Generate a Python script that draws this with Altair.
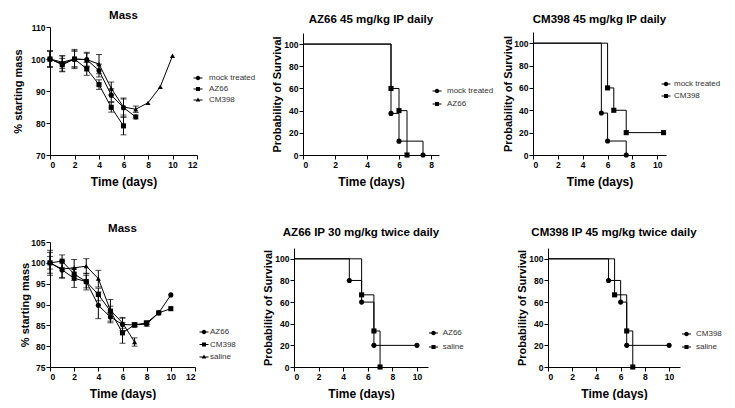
import altair as alt
import pandas as pd

FONT = "Liberation Sans"

# ---------------- data ----------------
# Panel 1: Mass, 45 mg/kg IP daily experiment
p1_groups = ["mock treated", "AZ66", "CM398"]
p1_mock_day = [0, 1, 2, 3, 4, 5, 6, 7]
p1_mock_mass = [100, 98.5, 100, 99.8, 96.4, 88.7, 84.8, 81.9]
p1_mock_err = [2.5, 2.5, 2.5, 2.0, 2.0, 2.0, 3.0, 0.6]
p1_az_day = [0, 1, 2, 3, 4, 5, 6]
p1_az_mass = [100, 98.2, 100, 96.9, 92.0, 84.9, 79.1]
p1_az_err = [2.5, 2.0, 2.5, 2.0, 1.5, 1.5, 2.8]
p1_cm_day = [0, 1, 2, 3, 4, 5, 6, 7, 8, 9, 10]
p1_cm_mass = [100, 99.0, 100, 99.8, 98.4, 90.8, 85.0, 84.3, 86.3, 91.3, 101.0]
p1_cm_err = [2.5, 2.0, 3.0, 2.3, 3.0, 2.0, 2.5, 1.0, 0, 0, 0]

# Panel 2: survival AZ66 45 mg/kg IP daily
p2_groups = ["mock treated", "AZ66"]
p2_mock_t = [0, 5.5, 6, 7.5]
p2_mock_s = [100, 37.5, 12.5, 0]
p2_az_t = [0, 5.5, 6, 6.5]
p2_az_s = [100, 60, 40, 0]

# Panel 3: survival CM398 45 mg/kg IP daily
p3_groups = ["mock treated", "CM398"]
p3_mock_t = [0, 5.5, 6, 7.5]
p3_mock_s = [100, 37.5, 12.5, 0]
p3_cm_t = [0, 6, 6.5, 7.5, 10.5]
p3_cm_s = [100, 60, 40, 20, 20]

# Panel 4: Mass, twice daily experiment
p4_groups = ["AZ66", "CM398", "saline"]
p4_az_day = [0, 1, 2, 3, 4, 5, 6, 7, 8, 9, 10]
p4_az_mass = [100, 98.3, 96.3, 95.5, 89.8, 87.0, 85.2, 85.1, 85.3, 88.0, 92.3]
p4_az_err = [2.5, 2.0, 2.2, 2.0, 3.2, 1.0, 1.5, 0.5, 0.5, 0, 0]
p4_cm_day = [0, 1, 2, 3, 4, 5, 6, 7, 8, 9, 10]
p4_cm_mass = [100, 100.4, 97.3, 95.5, 92.4, 88.4, 83.2, 85.1, 85.6, 88.0, 89.0]
p4_cm_err = [1.5, 1.5, 1.5, 1.5, 1.5, 2.8, 2.5, 0.4, 0.4, 0, 0]
p4_sal_day = [0, 1, 2, 3, 4, 5, 6, 7]
p4_sal_mass = [100, 98.5, 98.8, 99.2, 96.2, 88.6, 85.6, 81.0]
p4_sal_err = [3.0, 2.0, 2.0, 1.8, 2.0, 1.0, 1.3, 1.0]

# Panel 5: survival AZ66 IP 30 mg/kg twice daily
p5_groups = ["AZ66", "saline"]
p5_az_t = [0, 4.5, 5.5, 6.5, 10]
p5_az_s = [100, 80, 60, 20, 20]
p5_sal_t = [0, 5.5, 6.5, 7]
p5_sal_s = [100, 66.7, 33.3, 0]

# Panel 6: survival CM398 IP 45 mg/kg twice daily
p6_groups = ["CM398", "saline"]
p6_cm_t = [0, 5, 6, 6.5, 10]
p6_cm_s = [100, 80, 60, 20, 20]
p6_sal_t = [0, 5.5, 6.5, 7]
p6_sal_s = [100, 66.7, 33.3, 0]

# ---------------- helpers ----------------
SHAPES = ["circle", "square", "triangle-up"]
LINE = "M-1,-0.11H1V0.11H-1Z"
LEG_PATHS = [
    LINE + "M0.5,0A0.5,0.5,0,1,1,-0.5,0A0.5,0.5,0,1,1,0.5,0Z",
    LINE + "M-0.45,-0.45H0.45V0.45H-0.45Z",
    LINE + "M0,-0.55L0.5,0.35H-0.5Z",
]


def mass_df(groups, days, masses, errs):
    rows = []
    for g, ds, ms, es in zip(groups, days, masses, errs):
        for d, m, e in zip(ds, ms, es):
            rows.append({"group": g, "day": d, "mass": m, "err": e, "lo": m - e, "hi": m + e})
    return pd.DataFrame(rows)


def surv_df(groups, ts, ss):
    rows = []
    for g, tt, sv in zip(groups, ts, ss):
        for t, s in zip(tt, sv):
            rows.append({"group": g, "t": t, "s": s})
    return pd.DataFrame(rows)


def legend(lx, ly, lo, rp, pad):
    return alt.Legend(
        orient="none", legendX=lx, legendY=ly, title=None,
        symbolSize=81, symbolStrokeWidth=0, symbolFillColor="black",
        symbolOpacity=1,
        labelFont=FONT, labelFontSize=8, labelColor="#333333",
        labelOffset=lo, rowPadding=rp, padding=pad,
    )


def mass_panel(df, groups, title, xdom, xticks, ydom, yrange, yticks, w, h,
               toff, ytp, leg):
    xs = alt.Scale(domain=xdom, nice=False, zero=False)
    ys = alt.Scale(domain=ydom, range=yrange, nice=False, zero=False)
    xa = alt.Axis(values=xticks, title="Time (days)")
    ya = alt.Axis(values=yticks, title="% starting mass", titlePadding=ytp)
    X = lambda f: alt.X(f, scale=xs, axis=xa, title="Time (days)")
    Y = lambda f: alt.Y(f, scale=ys, axis=ya, title="% starting mass")
    base = alt.Chart(df)
    ebd = base.transform_filter("datum.err > 0")
    bars = ebd.mark_rule(color="black", strokeWidth=1).encode(
        x=X("day:Q"), y=Y("lo:Q"), y2="hi:Q")
    cap_lo = ebd.mark_tick(orient="horizontal", size=6, thickness=1, color="black").encode(
        x=X("day:Q"), y=Y("lo:Q"))
    cap_hi = ebd.mark_tick(orient="horizontal", size=6, thickness=1, color="black").encode(
        x=X("day:Q"), y=Y("hi:Q"))
    line = base.mark_line(color="black", strokeWidth=1).encode(
        x=X("day:Q"), y=Y("mass:Q"), detail="group:N")
    pts = base.mark_point(filled=True, color="black", opacity=1, size=26).encode(
        x=X("day:Q"), y=Y("mass:Q"),
        shape=alt.Shape("group:N", scale=alt.Scale(domain=groups, range=SHAPES[:len(groups)]), legend=None))
    leg_l = base.mark_point(filled=True, color="black", opacity=0, size=1).encode(
        x=X("day:Q"), y=Y("mass:Q"),
        shape=alt.Shape("group:N", scale=alt.Scale(domain=groups, range=LEG_PATHS[:len(groups)]), legend=leg))
    return alt.layer(bars, cap_lo, cap_hi, line, pts, leg_l).resolve_scale(
        shape="independent").properties(
        width=w, height=h, title=alt.Title(title, offset=toff, frame="group"))


def surv_panel(df, groups, title, xdom, xticks, yrange, w, h, toff, ytp, leg):
    xs = alt.Scale(domain=xdom, nice=False, zero=False)
    ys = alt.Scale(domain=[0, 110], range=yrange, nice=False, zero=False)
    xa = alt.Axis(values=xticks, title="Time (days)")
    ya = alt.Axis(values=[0, 20, 40, 60, 80, 100], title="Probability of Survival", titlePadding=ytp)
    X = alt.X("t:Q", scale=xs, axis=xa)
    Y = alt.Y("s:Q", scale=ys, axis=ya)
    base = alt.Chart(df)
    line = base.mark_line(interpolate="step-after", color="black", strokeWidth=1).encode(
        x=X, y=Y, detail="group:N")
    ev = base.transform_filter("datum.t > 0")
    pts = ev.mark_point(filled=True, color="black", opacity=1, size=26).encode(
        x=X, y=Y,
        shape=alt.Shape("group:N", scale=alt.Scale(domain=groups, range=SHAPES[:len(groups)]), legend=None))
    leg_l = ev.mark_point(filled=True, color="black", opacity=0, size=1).encode(
        x=X, y=Y,
        shape=alt.Shape("group:N", scale=alt.Scale(domain=groups, range=LEG_PATHS[:len(groups)]), legend=leg))
    return alt.layer(line, pts, leg_l).resolve_scale(shape="independent").properties(
        width=w, height=h, title=alt.Title(title, offset=toff, frame="group"))


# ---------------- panels ----------------
d1 = mass_df(p1_groups, [p1_mock_day, p1_az_day, p1_cm_day],
             [p1_mock_mass, p1_az_mass, p1_cm_mass], [p1_mock_err, p1_az_err, p1_cm_err])
d2 = surv_df(p2_groups, [p2_mock_t, p2_az_t], [p2_mock_s, p2_az_s])
d3 = surv_df(p3_groups, [p3_mock_t, p3_cm_t], [p3_mock_s, p3_cm_s])
d4 = mass_df(p4_groups, [p4_az_day, p4_cm_day, p4_sal_day],
             [p4_az_mass, p4_cm_mass, p4_sal_mass], [p4_az_err, p4_cm_err, p4_sal_err])
d5 = surv_df(p5_groups, [p5_az_t, p5_sal_t], [p5_az_s, p5_sal_s])
d6 = surv_df(p6_groups, [p6_cm_t, p6_sal_t], [p6_cm_s, p6_sal_s])

H1 = 128
H2 = 125
c1 = mass_panel(d1, p1_groups, "Mass", [0, 12], [0, 2, 4, 6, 8, 10, 12],
                [70, 110], [H1, 0], [70, 80, 90, 100, 110], 147, H1, 2, 7.8,
                legend(132.5, 35.5, 6.5, 2, 11))
c2 = surv_panel(d2, p2_groups, "AZ66 45 mg/kg IP daily", [0, 8.5], [0, 2, 4, 6, 8],
                [H1, 6], 136, H1, 2, 1.8, legend(125.5, 55.5, 5.5, 4, 4))
c3 = surv_panel(d3, p3_groups, "CM398 45 mg/kg IP daily", [0, 10.7], [0, 2, 4, 6, 8, 10],
                [H1, 5], 133, H1, 2, 0.8, legend(128.5, 52.5, 3.5, 3, 0))
c4 = mass_panel(d4, p4_groups, "Mass", [0, 12], [0, 2, 4, 6, 8, 10, 12],
                [75, 105], [H2, 0], [75, 80, 85, 90, 95, 100, 105], 145, H2, 3.5, 0,
                legend(149.5, 85.5, 1.5, 3.5, 0))
c5 = surv_panel(d5, p5_groups, "AZ66 IP 30 mg/kg twice daily", [0, 10.9], [0, 2, 4, 6, 8, 10],
                [H2, 6], 134, H2, 3.5, 1.0, legend(108, 59.5, 4.7, 5, 27))
c6 = surv_panel(d6, p6_groups, "CM398 IP 45 mg/kg twice daily", [0, 10.9], [0, 2, 4, 6, 8, 10],
                [H2, 6], 132, H2, 3.5, 1.0, legend(134, 87.5, 5, 4, 0))

top = alt.hconcat(c1, c2, c3, spacing=4)
bottom = alt.hconcat(c4, c5, c6, spacing=25)

chart = alt.vconcat(top, bottom, spacing=35).properties(
    padding={"left": 4, "top": 1, "right": 0, "bottom": 0}
).configure_view(stroke=None).configure_axis(
    grid=False, domainColor="black", tickColor="black", labelColor="black",
    titleColor="black", labelFont=FONT, titleFont=FONT, labelFontWeight="bold",
    titleFontWeight="bold", labelFontSize=8.5, titleFontSize=12, tickSize=4,
    labelPadding=1, domainWidth=1, tickWidth=1,
).configure_axisX(titlePadding=8).configure_axisY(titleFontSize=11).configure_title(
    font=FONT, fontSize=11.5, fontWeight="bold", color="black", anchor="middle"
)

chart.save("out.html", embed_options={"renderer": "svg", "actions": False})
